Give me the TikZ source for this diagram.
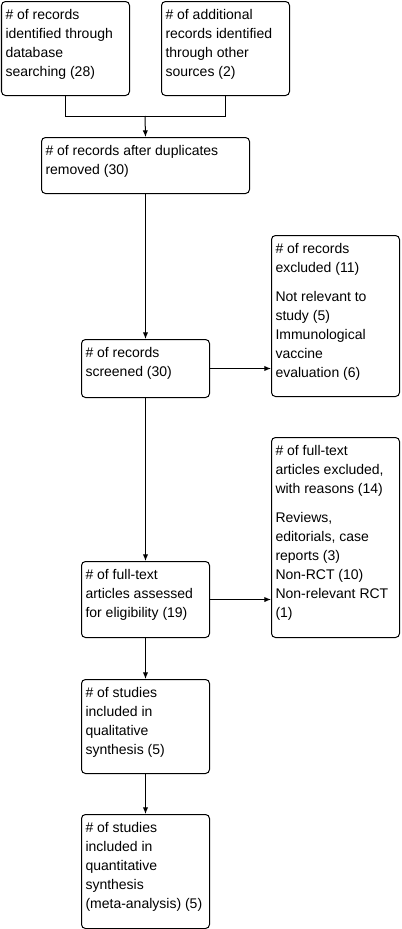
\documentclass[tikz,border=0pt]{standalone}
\usepackage{fontspec}
\setmainfont{Liberation Sans}
\usetikzlibrary{arrows.meta}

\newcommand{\flowfont}{\fontsize{10.5}{14.25}\selectfont}

\begin{document}
\begin{tikzpicture}[x=0.75pt, y=-0.75pt,
flowbox/.style={draw=black, line width=0.75pt, rounded corners=3pt, anchor=north west, inner xsep=3pt, inner ysep=3.5pt, font=\flowfont},
flowline/.style={line width=0.75pt},
flowarrow/.style={line width=0.75pt, -{Latex[length=5pt,width=4pt]}}
]
    \useasboundingbox (0,0) rectangle (402,929);

    \node [flowbox] (ident) at (1,1) {\parbox[t][63.5pt][t]{90pt}{\raggedright\strut\# of records\\identified through\\database\\searching (28)}};
    \node [flowbox] (other) at (161,1) {\parbox[t][63.5pt][t]{90pt}{\raggedright\strut\# of additional\\records identified\\through other\\sources (2)}};

    \node [flowbox] (dedup) at (41,137) {\parbox[t][35pt][t]{150pt}{\raggedright\strut\# of records after duplicates\\removed (30)}};

    \node [flowbox] (screen) at (81,339) {\parbox[t][36.5pt][t]{90pt}{\raggedright\strut\# of records\\screened (30)}};
    \node [flowbox] (exclrec) at (271,235) {\parbox[t][113.75pt][t]{90pt}{\raggedright\strut\# of records\\excluded (11)\\[7.5pt]Not relevant to\\study (5)\\Immunological\\vaccine\\evaluation (6)}};

    \node [flowbox] (elig) at (81,561) {\parbox[t][50pt][t]{90pt}{\raggedright\strut\# of full-text\\articles assessed\\for eligibility (19)}};
    \node [flowbox] (exclft) at (271,437) {\parbox[t][143pt][t]{90pt}{\raggedright\strut\# of full-text\\articles excluded,\\with reasons (14)\\[7.5pt]Reviews,\\editorials, case\\reports (3)\\Non-RCT (10)\\Non-relevant RCT\\(1)}};

    \node [flowbox] (qual) at (81,679) {\parbox[t][63.5pt][t]{90pt}{\raggedright\strut\# of studies\\included in\\qualitative\\synthesis (5)}};
    \node [flowbox] (quant) at (81,814) {\parbox[t][78.5pt][t]{90pt}{\raggedright\strut\# of studies\\included in\\quantitative\\synthesis\\(meta-analysis) (5)}};

    \coordinate (join) at (145,116);

    \draw [flowline] (ident.south) |- (join);
    \draw [flowline] (other.south) |- (join);
    \draw [flowarrow] (join) -- (dedup.north);
    \draw [flowarrow] (dedup.south) -- (screen.north);
    \draw [flowarrow] (screen.east) -- (screen.east -| exclrec.west);
    \draw [flowarrow] (screen.south) -- (elig.north);
    \draw [flowarrow] (elig.east) -- (elig.east -| exclft.west);
    \draw [flowarrow] (elig.south) -- (qual.north);
    \draw [flowarrow] (qual.south) -- (quant.north);

\end{tikzpicture}
\end{document}
